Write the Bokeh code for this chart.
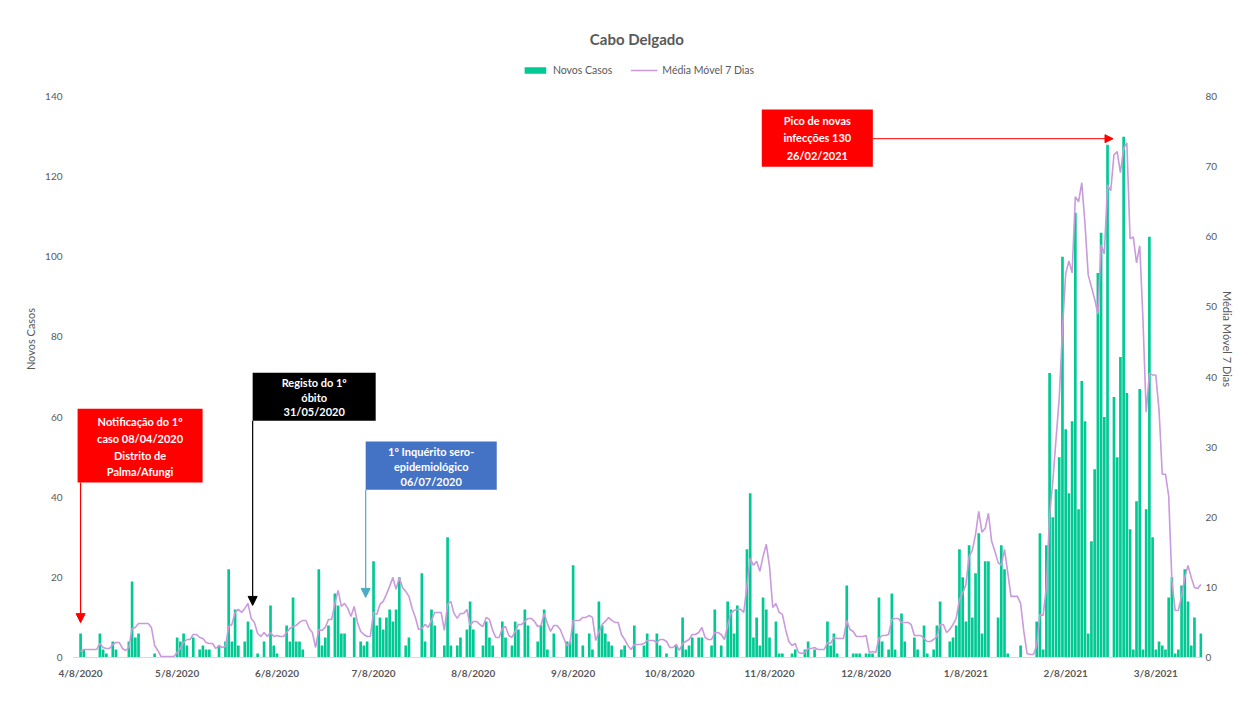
import numpy as np
import pandas as pd
from bokeh.plotting import figure
from bokeh.models import (Range1d, LinearAxis, FixedTicker, Label, BoxAnnotation,
                          Arrow, NormalHead, Legend, LegendItem, ColumnDataSource)
from bokeh.embed import file_html
from bokeh.resources import INLINE

# ---------------- data ----------------
start_date = "2020-04-08"
novos_casos = [
    6, 2, 0, 0, 0, 0, 6, 2, 1, 0,
    4, 2, 0, 0, 0, 4, 19, 5, 6, 0,
    0, 0, 0, 1, 0, 0, 0, 0, 0, 0,
    5, 4, 6, 3, 0, 5, 0, 2, 3, 2,
    2, 0, 0, 3, 0, 4, 22, 4, 12, 3,
    0, 4, 9, 7, 0, 1, 0, 4, 0, 13,
    3, 1, 0, 0, 8, 4, 15, 4, 4, 2,
    0, 0, 0, 0, 22, 3, 5, 8, 0, 16,
    13, 6, 6, 0, 0, 10, 0, 4, 3, 4,
    0, 24, 8, 10, 7, 10, 12, 9, 12, 20,
    0, 3, 5, 0, 0, 0, 21, 4, 0, 12,
    8, 0, 0, 3, 30, 3, 0, 3, 5, 0,
    7, 14, 7, 0, 0, 3, 9, 5, 3, 0,
    0, 9, 5, 0, 3, 9, 7, 0, 12, 8,
    0, 0, 4, 8, 12, 2, 0, 6, 0, 0,
    0, 4, 4, 23, 6, 0, 3, 0, 6, 2,
    0, 14, 8, 6, 4, 3, 0, 0, 2, 3,
    0, 0, 8, 0, 0, 3, 6, 0, 0, 6,
    3, 0, 1, 0, 0, 3, 0, 10, 2, 3,
    5, 0, 5, 5, 0, 0, 3, 12, 0, 3,
    0, 14, 12, 6, 13, 0, 0, 27, 41, 5,
    10, 3, 15, 12, 5, 0, 9, 1, 1, 0,
    0, 1, 2, 0, 0, 2, 4, 0, 2, 0,
    0, 0, 9, 3, 6, 1, 0, 0, 18, 0,
    1, 1, 1, 0, 1, 1, 1, 0, 15, 4,
    0, 2, 16, 2, 0, 11, 4, 0, 0, 5,
    2, 0, 8, 1, 0, 2, 8, 14, 0, 0,
    4, 5, 8, 27, 20, 9, 28, 10, 21, 31,
    6, 24, 24, 0, 0, 10, 28, 22, 1, 0,
    0, 0, 3, 0, 0, 0, 0, 9, 31, 2,
    28, 71, 35, 42, 50, 100, 57, 41, 59, 111,
    37, 69, 59, 6, 29, 47, 96, 106, 60, 128,
    0, 65, 50, 75, 130, 66, 32, 2, 39, 67,
    2, 37, 105, 30, 2, 4, 3, 2, 15, 20,
    1, 2, 18, 22, 14, 3, 10, 0, 6,
]
x_tick_labels = ["4/8/2020", "5/8/2020", "6/8/2020", "7/8/2020", "8/8/2020",
                 "9/8/2020", "10/8/2020", "11/8/2020", "12/8/2020", "1/8/2021",
                 "2/8/2021", "3/8/2021"]
left_ticks = [0, 20, 40, 60, 80, 100, 120, 140]
right_ticks = [0, 10, 20, 30, 40, 50, 60, 70, 80]

series_names = ["Novos Casos", "Média Móvel 7 Dias"]
title_text = "Cabo Delgado"

# event annotations: (date, text lines)
ev_first_case = ("2020-04-08", ["Notificação do 1º", "caso 08/04/2020", "Distrito de", "Palma/Afungi"])
ev_first_death = ("2020-05-31", ["Registo do 1º", "óbito", "31/05/2020"])
ev_survey = ("2020-07-06", ["1º Inquérito sero-", "epidemiológico", "06/07/2020"])
ev_peak = ("2021-02-26", ["Pico de novas", "infecções 130", "26/02/2021"])

# ---------------- derived ----------------
t0 = pd.Timestamp(start_date)
dates = pd.date_range(start_date, periods=len(novos_casos), freq="D")
day_idx = np.arange(len(novos_casos))
media_movel = (pd.Series(novos_casos).rolling(7, min_periods=1).sum() / 7.0).values


def day_of(s):
    return (pd.Timestamp(s) - t0).days


src = ColumnDataSource(dict(d=day_idx, casos=novos_casos, mm=media_movel,
                            date=dates.strftime("%d/%m/%Y")))

GREEN = "#00C993"
PURPLE = "#C99ADC"
GREY = "#595959"
FONT = "Lato"

Y_TOP = 159.0
p = figure(width=1237, height=700, output_backend="svg", toolbar_location=None,
           x_range=Range1d(-2.2, 348.5), y_range=Range1d(0, Y_TOP),
           min_border_left=73, min_border_right=20, min_border_top=20,
           min_border_bottom=43)
p.extra_y_ranges = {"mm": Range1d(0, Y_TOP * 80.0 / 140.0)}
p.outline_line_color = None
p.xgrid.visible = False
p.ygrid.visible = False
p.background_fill_color = "white"
p.border_fill_color = "white"

bars = p.vbar(x="d", top="casos", width=0.83, source=src, fill_color=GREEN,
              line_color=None)
line = p.line(x="d", y="mm", source=src, y_range_name="mm", line_color=PURPLE,
              line_width=1.6)

# x axis
x_tick_pos = [day_of(pd.to_datetime(t, format="%m/%d/%Y")) for t in x_tick_labels]
p.xaxis.ticker = FixedTicker(ticks=x_tick_pos)
p.xaxis.major_label_overrides = {int(k): v for k, v in zip(x_tick_pos, x_tick_labels)}
p.xaxis.axis_line_color = "#D9D9D9"
p.xaxis.major_tick_line_color = None
p.xaxis.minor_tick_line_color = None
p.xaxis.major_tick_out = 0
p.xaxis.minor_tick_out = 0
p.xaxis.major_label_text_font = FONT
p.xaxis.major_label_text_font_size = "10px"
p.xaxis.major_label_text_font_style = "bold"
p.xaxis.major_label_text_color = GREY
p.xaxis.major_label_standoff = 9

# left axis
p.yaxis.ticker = FixedTicker(ticks=left_ticks)
p.yaxis.axis_label = series_names[0]
for ax in [p.yaxis[0]]:
    ax.axis_line_color = None
    ax.major_tick_line_color = None
    ax.minor_tick_line_color = None
    ax.major_tick_out = 0
    ax.minor_tick_out = 0
    ax.major_label_text_font = FONT
    ax.major_label_text_font_size = "10px"
    ax.major_label_text_color = GREY
    ax.major_label_standoff = 11
    ax.axis_label_text_font = FONT
    ax.axis_label_text_font_size = "11px"
    ax.axis_label_text_font_style = "normal"
    ax.axis_label_text_color = GREY
    ax.axis_label_standoff = 5

# right axis
rax = LinearAxis(y_range_name="mm", ticker=FixedTicker(ticks=right_ticks),
                 axis_label=series_names[1])
rax.axis_line_color = None
rax.major_tick_line_color = None
rax.minor_tick_line_color = None
rax.major_tick_out = 0
rax.minor_tick_out = 0
rax.major_tick_in = 0
rax.minor_tick_in = 0
rax.major_label_text_font = FONT
rax.major_label_text_font_size = "10px"
rax.major_label_text_color = GREY
rax.major_label_standoff = 3
rax.axis_label_text_font = FONT
rax.axis_label_text_font_size = "11px"
rax.axis_label_text_font_style = "normal"
rax.axis_label_text_color = GREY
rax.axis_label_standoff = 1
p.add_layout(rax, "right")

# legend
legend = Legend(items=[LegendItem(label=series_names[0], renderers=[bars]),
                       LegendItem(label=series_names[1], renderers=[line])],
                orientation="horizontal", location="top_center", margin=44,
                padding=0, spacing=18, glyph_width=27, glyph_height=8,
                label_height=12, label_standoff=5, label_text_font=FONT,
                label_text_font_size="10.5px", label_text_color=GREY,
                border_line_color=None, background_fill_alpha=0)
p.add_layout(legend, "center")

# title
p.add_layout(Label(x=172.8, y=154.5, text=title_text, text_align="center",
                   text_baseline="middle", text_font=FONT, text_font_size="15px",
                   text_font_style="bold", text_color=GREY))


def add_box(left, right, bottom, top, color, lines, ys):
    p.add_layout(BoxAnnotation(left=left, right=right, bottom=bottom, top=top,
                               fill_color=color, fill_alpha=1.0, line_alpha=0))
    cx = (left + right) / 2.0
    for t, yy in zip(lines, ys):
        p.add_layout(Label(x=cx, y=yy, text=t, text_align="center",
                           text_baseline="middle", text_font=FONT,
                           text_font_size="11px", text_font_style="bold",
                           text_color="white"))


# first case (red)
d1 = day_of(ev_first_case[0])
add_box(d1 - 0.93, d1 + 37.9, 43.7, 62.1, "#FF0000", ev_first_case[1],
        [58.9, 54.7, 50.5, 46.4])
p.add_layout(Arrow(end=NormalHead(size=9, fill_color="#FF0000", line_color="#FF0000"),
                   x_start=d1, y_start=43.7, x_end=d1, y_end=8.7,
                   line_color="#FF0000", line_width=1.2))

# first death (black)
d2 = day_of(ev_first_death[0])
add_box(d2 + 0.45, d2 + 38.67, 59.1, 71.1, "#000000", ev_first_death[1],
        [68.6, 64.9, 61.4])
p.add_layout(Arrow(end=NormalHead(size=9, fill_color="#000000", line_color="#000000"),
                   x_start=d2 + 0.45, y_start=59.1, x_end=d2 + 0.45, y_end=13.0,
                   line_color="#000000", line_width=1.2))

# serological survey (blue)
d3 = day_of(ev_survey[0])
add_box(d3 - 0.44, d3 + 40.27, 41.9, 53.9, "#4472C4", ev_survey[1],
        [51.4, 47.7, 43.9])
p.add_layout(Arrow(end=NormalHead(size=9, fill_color="#4BACC6", line_color="#4BACC6"),
                   x_start=d3 - 0.44, y_start=41.9, x_end=d3 - 0.44, y_end=15.0,
                   line_color="#4BACC6", line_width=1.2))

# peak (red)
d4 = day_of(ev_peak[0])
add_box(d4 - 112.4, d4 - 77.9, 122.5, 136.8, "#FF0000", ev_peak[1],
        [134.0, 129.8, 125.3])
p.add_layout(Arrow(end=NormalHead(size=8, fill_color="#FF0000", line_color="#FF0000"),
                   x_start=d4 - 77.9, y_start=129.5, x_end=d4 - 3.3, y_end=129.5,
                   line_color="#FF0000", line_width=1.0))

open("out.html", "w").write(file_html(p, INLINE))
